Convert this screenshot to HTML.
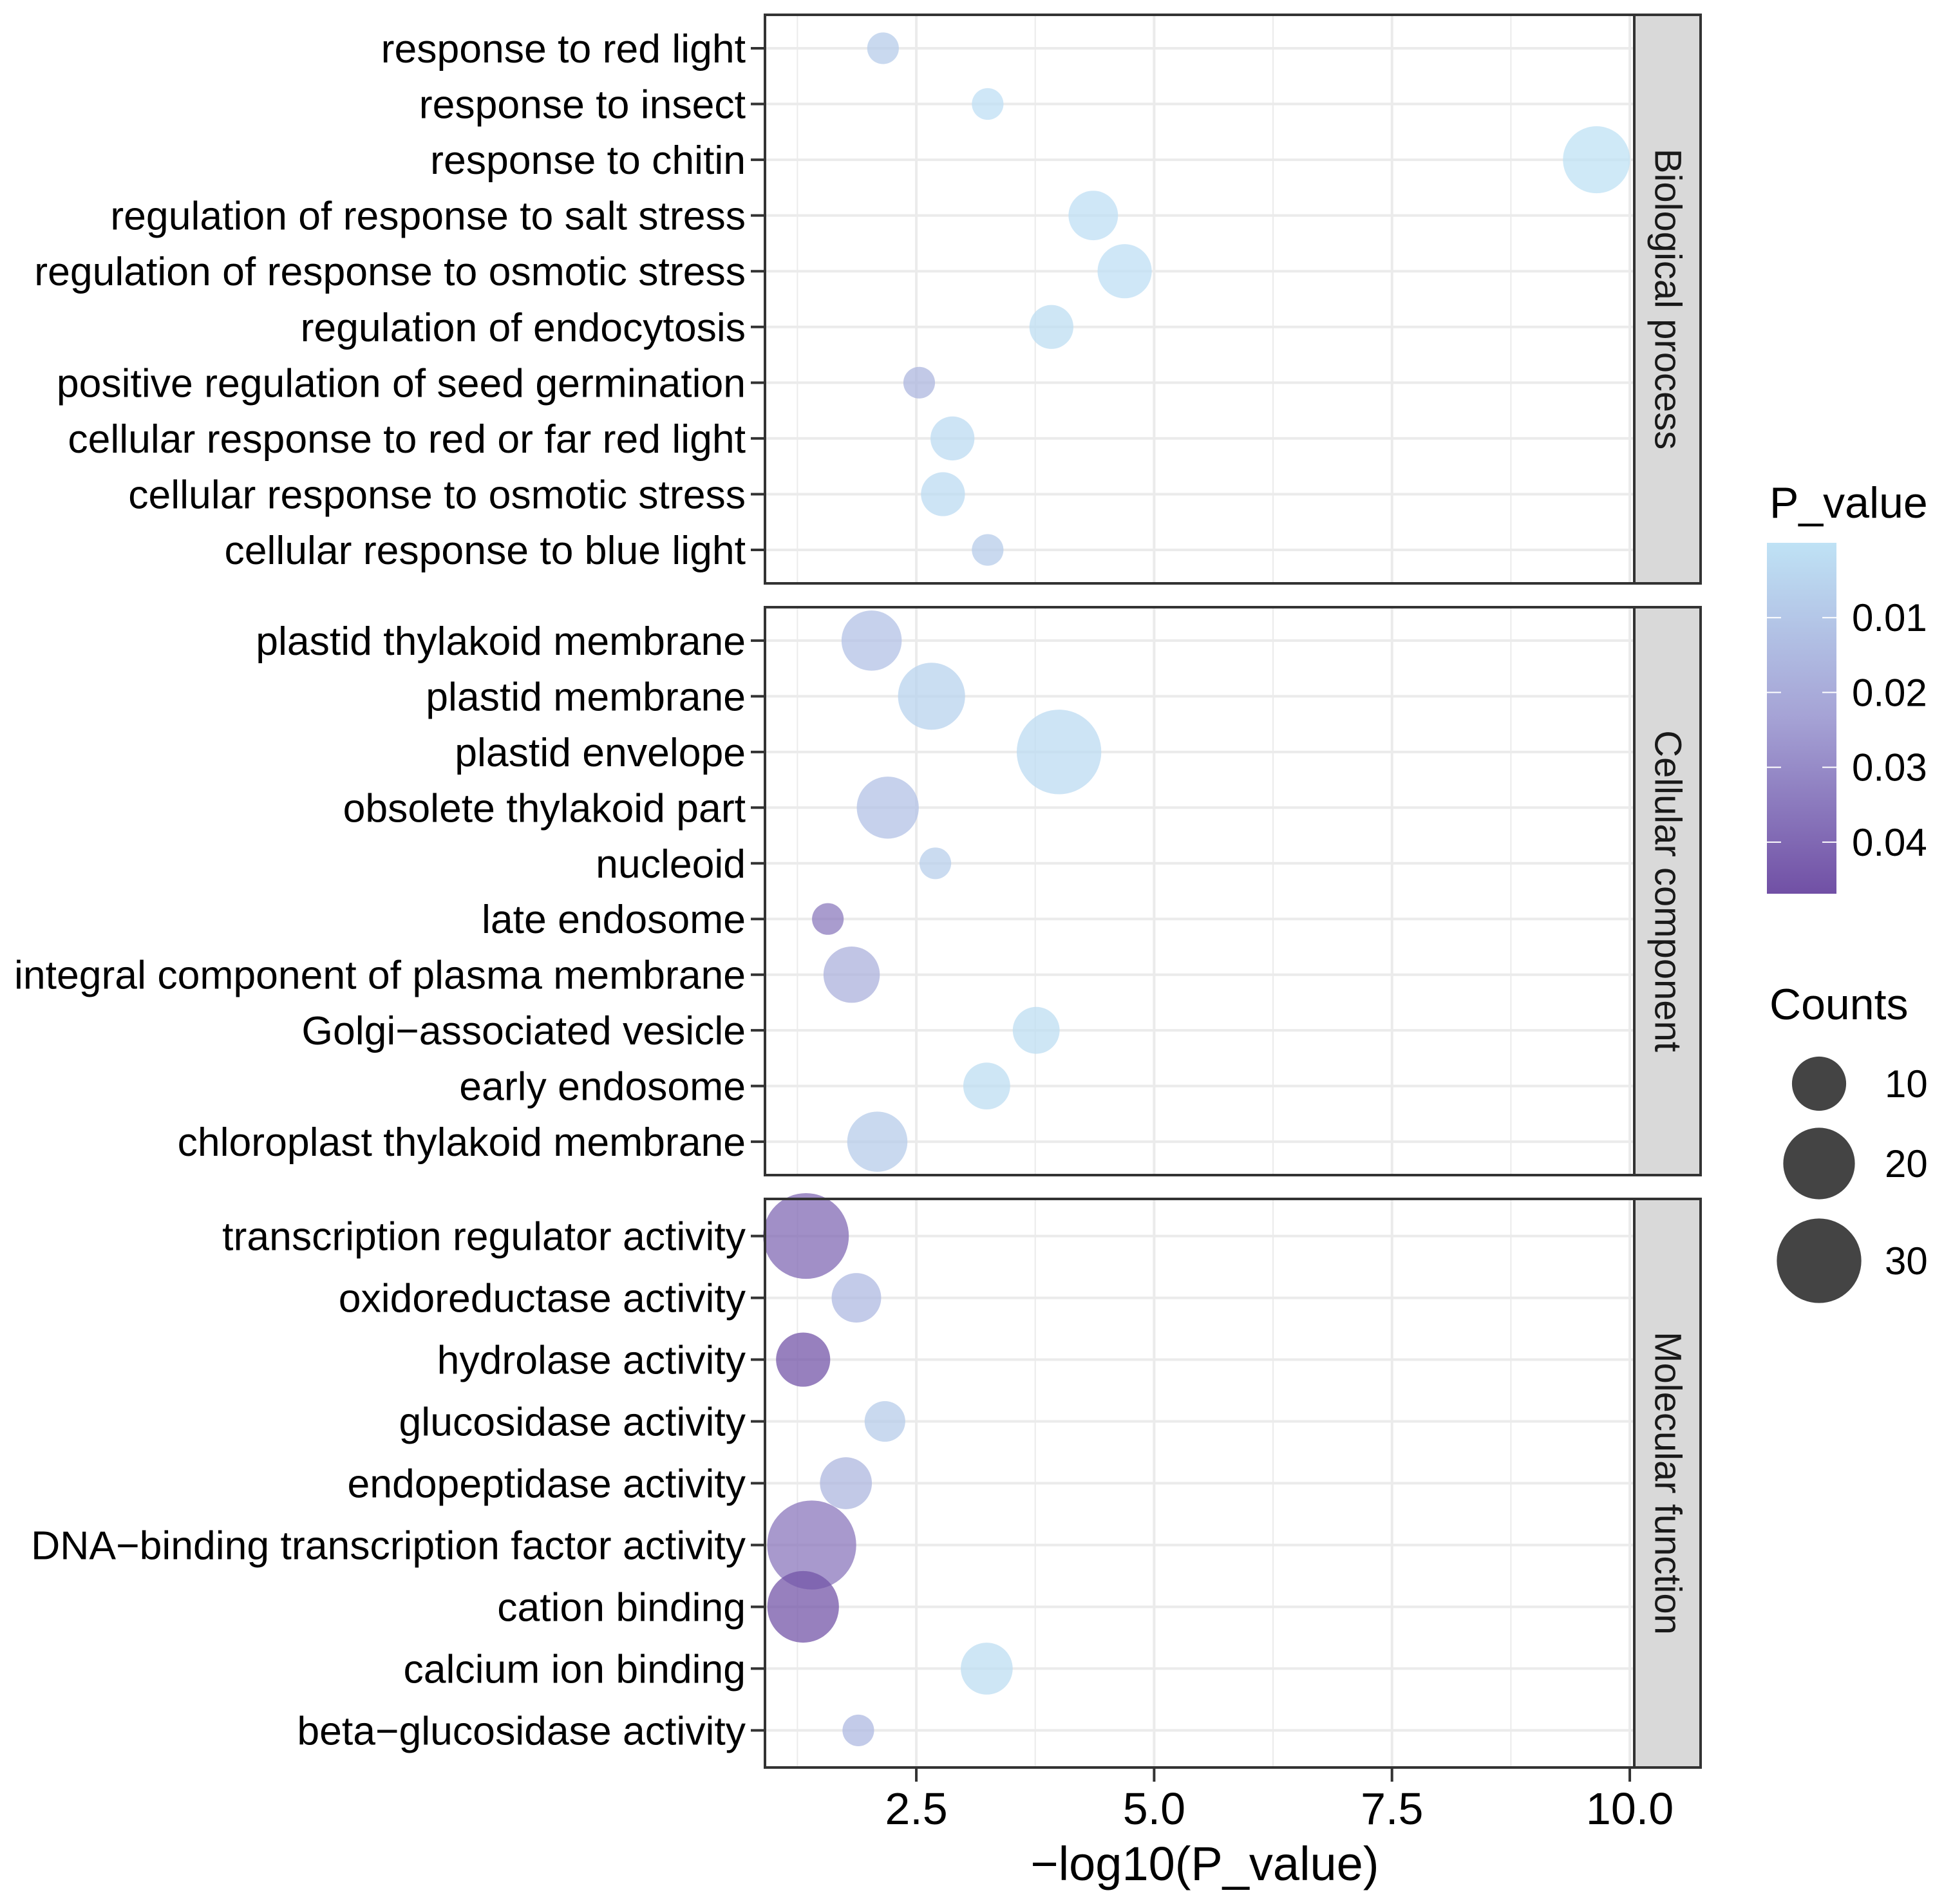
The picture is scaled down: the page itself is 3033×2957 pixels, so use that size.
<!DOCTYPE html>
<html><head><meta charset="utf-8">
<style>
html,body{margin:0;padding:0;background:#fff;}
svg{display:block;font-family:"Liberation Sans",Arial,sans-serif;}
</style></head>
<body>
<svg id="chart" width="3033" height="2957" viewBox="0 0 3033 2957" xmlns="http://www.w3.org/2000/svg">
<defs>
<linearGradient id="pgrad" x1="0" y1="0" x2="0" y2="1">
<stop offset="0" stop-color="#bfe2f5"/>
<stop offset="0.5" stop-color="#a5a2d5"/>
<stop offset="1" stop-color="#7150a5"/>
</linearGradient>
</defs>
<rect x="0" y="0" width="3033" height="2957" fill="#fff"/>
</svg>
<script>
// ---- data ----
const bpTerms = ["response to red light","response to insect","response to chitin","regulation of response to salt stress","regulation of response to osmotic stress","regulation of endocytosis","positive regulation of seed germination","cellular response to red or far red light","cellular response to osmotic stress","cellular response to blue light"];
const bpX = [2.15,3.25,9.65,4.36,4.69,3.92,2.53,2.88,2.78,3.25];
const bpCounts = [3,3,17,8,10,6,3,6,6,3];
const bpP = [0.008,0.001,0.0005,0.001,0.001,0.002,0.016,0.003,0.003,0.008];

const ccTerms = ["plastid thylakoid membrane","plastid membrane","plastid envelope","obsolete thylakoid part","nucleoid","late endosome","integral component of plasma membrane","Golgi\u2212associated vesicle","early endosome","chloroplast thylakoid membrane"];
const ccX = [2.03,2.66,4.0,2.2,2.7,1.57,1.82,3.76,3.24,2.09];
const ccCounts = [13,17,30,14,3,3,11,7,7,13];
const ccP = [0.012,0.006,0.003,0.012,0.007,0.035,0.018,0.002,0.002,0.008];

const mfTerms = ["transcription regulator activity","oxidoreductase activity","hydrolase activity","glucosidase activity","endopeptidase activity","DNA\u2212binding transcription factor activity","cation binding","calcium ion binding","beta\u2212glucosidase activity"];
const mfX = [1.34,1.87,1.31,2.17,1.76,1.40,1.31,3.24,1.89];
const mfCounts = [31,8,10,5,9,34,20,9,3];
const mfP = [0.040,0.015,0.046,0.008,0.016,0.036,0.046,0.002,0.015];

const xTicks = [2.5,5.0,7.5,10.0];
const xTickLabels = ["2.5","5.0","7.5","10.0"];
const xMinor = [1.25,3.75,6.25,8.75];
const pTicks = [0.01,0.02,0.03,0.04];
const pTickLabels = ["0.01","0.02","0.03","0.04"];
const sizeBreaks = [10,20,30];
const sizeLabels = ["10","20","30"];
const facetNames = ["Biological process","Cellular component","Molecular function"];

// ---- scales ----
const NS = "http://www.w3.org/2000/svg";
const svg = document.getElementById('chart');
const PX0 = 1188, PX1 = 2538;
const XMIN = 0.909, XMAX = 10.047;
function xs(v){ return PX0 + (v - XMIN) / (XMAX - XMIN) * (PX1 - PX0); }
function rs(c){ return 15 + 55 * Math.sqrt(Math.max(0,(c - 2)) / 33); }
const PMIN = 0, PMAX = 0.0469;
const stops = [[0,[191,226,245]],[0.5,[165,162,213]],[1,[113,80,165]]];
function colorOf(p){
  let t = Math.max(0, Math.min(1, (p - PMIN) / (PMAX - PMIN)));
  let a = stops[0], b = stops[1];
  if (t > 0.5){ a = stops[1]; b = stops[2]; }
  const u = (t - a[0]) / (b[0] - a[0]);
  const c = a[1].map((v,i)=>Math.round(v + (b[1][i]-v)*u));
  return 'rgb(' + c.join(',') + ')';
}
function mk(tag, attrs, parent){
  const e = document.createElementNS(NS, tag);
  for (const k in attrs) e.setAttribute(k, attrs[k]);
  (parent || svg).appendChild(e);
  return e;
}

const panels = [
  {top:23, bot:906, terms:bpTerms, xv:bpX, cnt:bpCounts, pv:bpP, name:facetNames[0]},
  {top:943, bot:1825, terms:ccTerms, xv:ccX, cnt:ccCounts, pv:ccP, name:facetNames[1]},
  {top:1862, bot:2745, terms:mfTerms, xv:mfX, cnt:mfCounts, pv:mfP, name:facetNames[2]}
];

panels.forEach((pn, pi) => {
  const g = mk('g', {});
  
  
  const n = pn.terms.length;
  const H = pn.bot - pn.top;
  const ys = (i) => pn.top + (i + 0.6) / (n + 0.2) * H;
  const bg = mk('rect', {x:PX0, y:pn.top, width:PX1-PX0, height:H, fill:'#fff'}, g);
  
  
  xMinor.forEach(v => {
    const l = mk('line', {x1:xs(v), x2:xs(v), y1:pn.top, y2:pn.bot, stroke:'#ebebeb', 'stroke-width':2}, g);
    
    
  });
  xTicks.forEach(v => {
    const l = mk('line', {x1:xs(v), x2:xs(v), y1:pn.top, y2:pn.bot, stroke:'#ebebeb', 'stroke-width':4}, g);
    
    
  });
  pn.terms.forEach((t, i) => {
    const y = ys(i);
    const l = mk('line', {x1:PX0, x2:PX1, y1:y, y2:y, stroke:'#ebebeb', 'stroke-width':4}, g);
    
    
  });
  pn.terms.forEach((t, i) => {
    const y = ys(i);
    const c = mk('circle', {cx:xs(pn.xv[i]), cy:y, r:rs(pn.cnt[i]), fill:colorOf(pn.pv[i]), 'fill-opacity':0.74}, g);
    
    
    const tk = mk('line', {x1:1166, x2:PX0, y1:y, y2:y, stroke:'#333', 'stroke-width':4}, g);
    
    
    const tx = mk('text', {x:1158, y:y+22, 'text-anchor':'end', 'font-size':62.5, fill:'#000'}, g);
    tx.textContent = t;
    
    
  });
  const br = mk('rect', {x:PX0, y:pn.top, width:PX1-PX0, height:H, fill:'none', stroke:'#333', 'stroke-width':4}, g);
  
  
  const st = mk('rect', {x:PX1, y:pn.top, width:103, height:H, fill:'#d9d9d9', stroke:'#333', 'stroke-width':4}, g);
  
  
  const cy = (pn.top + pn.bot)/2;
  const sl = mk('text', {x:2590, y:cy, 'text-anchor':'middle', 'dominant-baseline':'central', 'font-size':58, fill:'#1a1a1a', transform:'rotate(90 2590 '+cy+')'}, g);
  sl.textContent = pn.name;
  
  
});

// x axis
xTicks.forEach((v, i) => {
  const l = mk('line', {x1:xs(v), x2:xs(v), y1:2745, y2:2767, stroke:'#333', 'stroke-width':4});
  
  
  const t = mk('text', {x:xs(v), y:2833, 'text-anchor':'middle', 'font-size':70, fill:'#000'});
  t.textContent = xTickLabels[i];
  
  
});
const xt = mk('text', {x:1871, y:2920, 'text-anchor':'middle', 'font-size':74, fill:'#000'});
xt.textContent = '\u2212log10(P_value)';



// colour legend
const lt = mk('text', {x:2748, y:804, 'font-size':68, fill:'#000'});
lt.textContent = 'P_value';


const CB0 = 843, CB1 = 1388;
const cb = mk('rect', {x:2744, y:CB0, width:108, height:CB1-CB0, fill:'url(#pgrad)'});


function ps(p){ return CB0 + (p - PMIN)/(PMAX - PMIN) * (CB1 - CB0); }
pTicks.forEach((p, i) => {
  const y = ps(p);
  const a = mk('line', {x1:2744, x2:2766, y1:y, y2:y, stroke:'#fff', 'stroke-width':2});
  
  
  const b = mk('line', {x1:2830, x2:2852, y1:y, y2:y, stroke:'#fff', 'stroke-width':2});
  
  
  const t = mk('text', {x:2876, y:y+21, 'font-size':60, fill:'#000'});
  t.textContent = pTickLabels[i];
  
  
});

// size legend
const st2 = mk('text', {x:2748, y:1583, 'font-size':68, fill:'#000'});
st2.textContent = 'Counts';


const sizeY = [1683, 1807, 1958];
sizeBreaks.forEach((c, i) => {
  const k = mk('circle', {cx:2825, cy:sizeY[i], r:rs(c), fill:'#444'});
  
  
  const t = mk('text', {x:2927, y:sizeY[i]+21, 'font-size':60, fill:'#000'});
  t.textContent = sizeLabels[i];
  
  
});
</script>
</body></html>
